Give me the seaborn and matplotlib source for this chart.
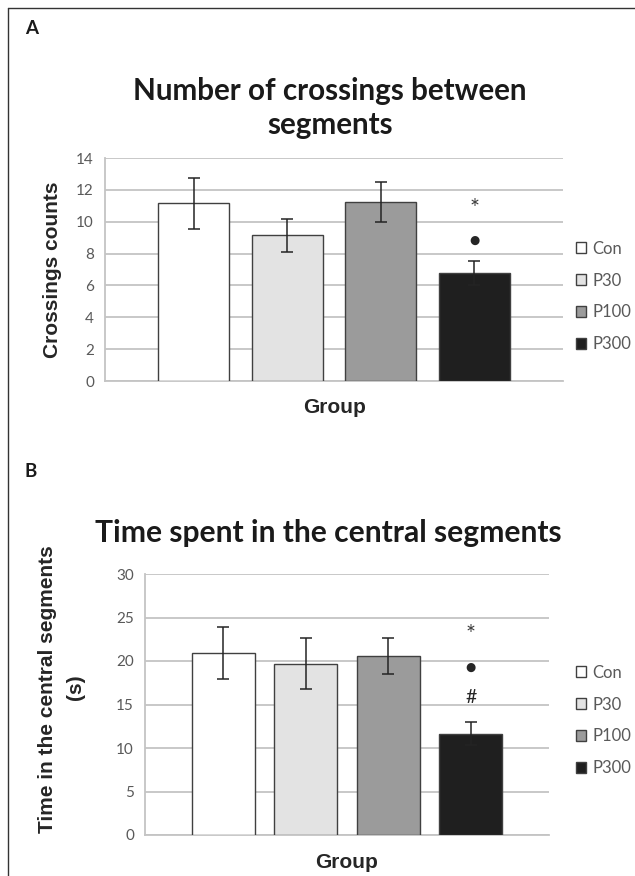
import numpy as np
import pandas as pd
import matplotlib
matplotlib.use("Agg")
import matplotlib.pyplot as plt
import seaborn as sns

# data
groups = ['Con', 'P30', 'P100', 'P300']
crossings = [11.15, 9.15, 11.25, 6.8]
crossings_err = [1.6, 1.05, 1.25, 0.75]
central_time = [20.9, 19.7, 20.6, 11.65]
central_time_err = [3.0, 2.9, 2.1, 1.3]

marks_a = ['*', '●']
marks_a_y = [10.8, 8.85]
marks_b = ['*', '●', '#']
marks_b_y = [23.05, 19.3, 15.8]

bar_colors = ['#ffffff', '#e3e3e3', '#9b9b9b', '#1f1f1f']
grid_c = '#c4c4c4'
txt_c = '#595959'

sns.set_style('white')
plt.rcParams['font.family'] = ['Lato', 'DejaVu Sans']

fig = plt.figure(figsize=(6.35, 8.76), dpi=100)

W, H = 635, 876


def box(l, t, r, b):
    return [l / W, 1 - b / H, (r - l) / W, (b - t) / H]


def panel(ax, vals, errs, ymax, step, marks, marks_y, grp_xy, leg_y):
    df = pd.DataFrame({'group': groups, 'value': vals})
    sns.barplot(data=df, x='group', y='value', hue='group', palette=bar_colors,
                width=0.76, errorbar=None, edgecolor='#404040', linewidth=1.0,
                legend=True, ax=ax, zorder=3)
    ax.errorbar(np.arange(len(groups)), vals, yerr=errs, fmt='none',
                ecolor='#242424', elinewidth=1.1, capsize=4, capthick=1.1, zorder=4)
    ax.set_xlim(-0.95, 3.95)
    ax.set_ylim(0, ymax)
    ax.set_yticks(np.arange(0, ymax + 0.1, step))
    ax.set_xticks([])
    ax.yaxis.grid(True, color=grid_c, lw=1.3, zorder=0)
    ax.set_axisbelow(True)
    for s in ['top', 'right']:
        ax.spines[s].set_visible(False)
    for s in ['left', 'bottom']:
        ax.spines[s].set_color(grid_c)
        ax.spines[s].set_linewidth(1.3)
    ax.tick_params(axis='y', length=0, labelsize=11, labelcolor=txt_c, pad=8)
    for m, y in zip(marks, marks_y):
        if m == '●':
            ax.text(3, y, m, ha='center', va='center', family=['DejaVu Sans'],
                    fontsize=8.5, color='#262626', zorder=5)
        elif m == '#':
            ax.text(3, y, m, ha='center', va='center', family=['Lato'],
                    fontsize=14, color='#262626', zorder=5)
        else:
            ax.text(3, y, m, ha='center', va='center', family=['Lato'],
                    fontsize=17, color='#3a3a3a', zorder=5)
    ax.set_xlabel('Group', family='Liberation Sans', fontweight='bold',
                  fontsize=15, color='#262626')
    ax.xaxis.set_label_coords(*grp_xy)
    leg = ax.legend(loc='center left', bbox_to_anchor=(576 / W, leg_y),
                    bbox_transform=fig.transFigure, frameon=False,
                    handlelength=0.62, handleheight=0.62, handletextpad=0.35,
                    labelspacing=0.95, borderpad=0, borderaxespad=0,
                    prop={'family': 'Lato', 'size': 12})
    for t in leg.get_texts():
        t.set_color(txt_c)
    for p in leg.get_patches():
        p.set_edgecolor('#404040')
        p.set_linewidth(1.0)


ylab_kw = dict(family='Liberation Sans', fontweight='bold', fontsize=15,
               color='#262626', rotation=90, ha='center', va='center')

ax_a = fig.add_axes(box(105, 158, 563, 381))
panel(ax_a, crossings, crossings_err, 14, 2, marks_a, marks_a_y,
      (0.502, -0.075), 1 - 296.5 / H)
ax_a.set_ylabel('Crossings counts', family='Liberation Sans', fontweight='bold',
                fontsize=15, color='#262626')
ax_a.yaxis.set_label_coords(-0.094, 0.5)

ax_b = fig.add_axes(box(145, 574, 549, 835))
panel(ax_b, central_time, central_time_err, 30, 5, marks_b, marks_b_y,
      (0.5, -0.068), 1 - 720.5 / H)
ax_b.set_ylabel('')
fig.text(48 / W, 1 - 689 / H, 'Time in the central segments', **ylab_kw)
fig.text(76 / W, 1 - 687 / H, '(s)', **ylab_kw)

fig.text(330 / W, 1 - 108 / H, 'Number of crossings between\nsegments', ha='center',
         va='center', fontsize=21.3, fontweight='bold', family='Lato',
         color='#1a1a1a', linespacing=1.3)
fig.text(328 / W, 1 - 533 / H, 'Time spent in the central segments', ha='center',
         va='center', fontsize=21.6, fontweight='bold', family='Lato', color='#1a1a1a')

fig.text(32 / W, 1 - 29 / H, 'A', ha='center', va='center', fontsize=13.5,
         fontweight='bold', family='Lato', color='#1a1a1a')
fig.text(31 / W, 1 - 471 / H, 'B', ha='center', va='center', fontsize=13.5,
         fontweight='bold', family='Lato', color='#1a1a1a')

# frame lines of the figure panel
fig.add_artist(plt.Line2D([8 / W, 8 / W], [0, 1 - 8 / H], color='#333333', lw=1.0))
fig.add_artist(plt.Line2D([8 / W, 1], [1 - 8 / H, 1 - 8 / H], color='#333333', lw=1.0))

fig.savefig('out.png', dpi=100)
